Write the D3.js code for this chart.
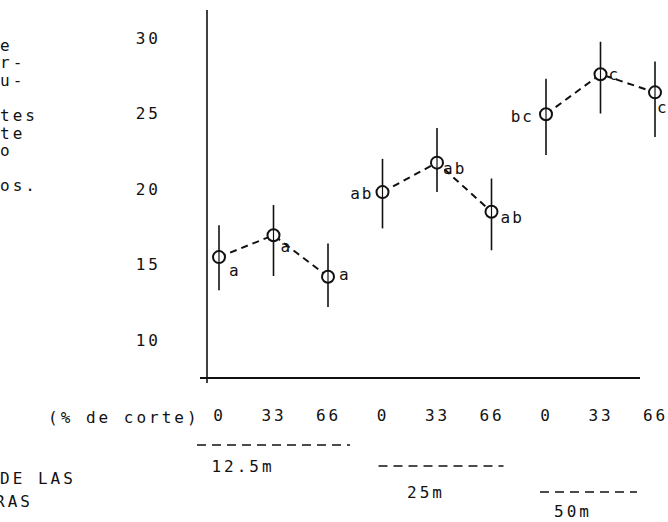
<!DOCTYPE html>
<html>
<head>
<meta charset="utf-8">
<script src="https://cdn.jsdelivr.net/npm/d3@7"></script>
<style>
  html, body { margin: 0; padding: 0; background: #fff; }
  svg { display: block; }
  text { font-family: "DejaVu Sans Mono", "Liberation Mono", monospace; font-size: 16px; letter-spacing: 3px; fill: #111; }
</style>
</head>
<body>
<svg id="chart" width="668" height="522"></svg>
<script>
// ---------------- data ----------------
const yTicks = [10, 15, 20, 25, 30];
const cutPercent = ["0", "33", "66", "0", "33", "66", "0", "33", "66"];
const rowSpacing = ["12.5m", "12.5m", "12.5m", "25m", "25m", "25m", "50m", "50m", "50m"];
const groups = ["12.5m", "25m", "50m"];
const means = [15.5, 16.95, 14.2, 19.8, 21.75, 18.5, 24.95, 27.6, 26.4];
const upper = [17.6, 18.95, 16.4, 22.0, 24.05, 20.7, 27.3, 29.75, 28.45];
const lower = [13.3, 14.25, 12.2, 17.4, 19.8, 15.95, 22.25, 25.0, 23.45];
const letters = ["a", "a", "a", "ab", "ab", "ab", "bc", "c", "c"];
const captionFragments = ["e", "r-", "u-", "", "tes", "te", "o", "", "os."];
const bottomFragments = ["DE LAS", "RAS"];
const axisTitle = "(% de corte)";

// ---------------- layout ----------------
const svg = d3.select("#chart");
const idx = d3.range(means.length);
const x = d3.scalePoint().domain(idx).range([219, 655]);
const y = d3.scaleLinear().domain([7.5, 31.85]).range([378, 10]);

// label placement (dx, dy, anchor) relative to each point
const labelPlace = [
  [10, 13, "start"], [7, 11, "start"], [11, -2, "start"],
  [-9, 1, "end"], [6, 6, "start"], [9, 6, "start"],
  [-12, 2, "end"], [8, 0, "start"], [2, 15, "start"]
];
// group bracket placement: [x0 offset from first, x1 offset from last, y, label x, label y]
const bracketPlace = [
  [-22, 22, 445, 243, 466],
  [-4, 12, 466, 426, 492],
  [-6, -18, 492, 573, 511]
];

// caption fragments (paragraph clipped at the left edge)
svg.append("g").selectAll("text").data(captionFragments).join("text")
  .attr("x", 0).attr("y", (d, i) => 45 + i * 17.6).attr("dy", "0.35em")
  .text(d => d);
svg.append("g").selectAll("text").data(bottomFragments).join("text")
  .attr("x", (d, i) => i === 0 ? 0 : -5).attr("y", (d, i) => 478 + i * 23).attr("dy", "0.35em")
  .text(d => d);

// y axis
const yAxis = d3.axisLeft(y).tickValues(yTicks).tickSize(0).tickPadding(46).tickFormat(d3.format("d"));
const gy = svg.append("g").attr("transform", "translate(207,0)").call(yAxis);
gy.select(".domain").remove();
gy.selectAll("text").attr("font-size", null).attr("font-family", null).attr("fill", "#111");
svg.append("line").attr("x1", 207).attr("x2", 207).attr("y1", y(31.85)).attr("y2", y(7.5) + 5)
  .attr("stroke", "#111").attr("stroke-width", 1.6);

// x axis line
svg.append("line").attr("x1", 200).attr("x2", 640).attr("y1", y(7.5)).attr("y2", y(7.5))
  .attr("stroke", "#111").attr("stroke-width", 2);

// x tick labels
const xAxis = d3.axisBottom(x).tickSize(0).tickPadding(32).tickFormat(i => cutPercent[i]);
const gx = svg.append("g").attr("transform", `translate(0,${y(7.5)})`).call(xAxis);
gx.select(".domain").remove();
gx.selectAll("text").attr("font-size", null).attr("font-family", null).attr("fill", "#111");
svg.append("text").attr("x", 48).attr("y", 417).attr("dy", "0.35em").text(axisTitle);

// group brackets
groups.forEach((g, gi) => {
  const members = idx.filter(i => rowSpacing[i] === g);
  const p = bracketPlace[gi];
  svg.append("line")
    .attr("x1", x(members[0]) + p[0]).attr("x2", x(members[members.length - 1]) + p[1])
    .attr("y1", p[2]).attr("y2", p[2])
    .attr("stroke", "#111").attr("stroke-width", 1.6).attr("stroke-dasharray", "9,6");
  svg.append("text").attr("x", p[3]).attr("y", p[4]).attr("dy", "0.35em")
    .attr("text-anchor", "middle").text(g);
});

// dashed connecting lines within each group
const line = d3.line().x(i => x(i)).y(i => y(means[i]));
groups.forEach(g => {
  const members = idx.filter(i => rowSpacing[i] === g);
  svg.append("path").datum(members).attr("d", line)
    .attr("fill", "none").attr("stroke", "#111").attr("stroke-width", 2)
    .attr("stroke-dasharray", "7,5");
});

// error bars
svg.append("g").selectAll("line").data(idx).join("line")
  .attr("x1", i => x(i)).attr("x2", i => x(i))
  .attr("y1", i => y(upper[i])).attr("y2", i => y(lower[i]))
  .attr("stroke", "#111").attr("stroke-width", 1.6);

// points
svg.append("g").selectAll("circle").data(idx).join("circle")
  .attr("cx", i => x(i)).attr("cy", i => y(means[i])).attr("r", 6)
  .attr("fill", "#fff").attr("stroke", "#111").attr("stroke-width", 2);
svg.append("g").selectAll("line").data(idx).join("line")
  .attr("x1", i => x(i)).attr("x2", i => x(i))
  .attr("y1", i => y(means[i]) - 6).attr("y2", i => y(means[i]) + 6)
  .attr("stroke", "#111").attr("stroke-width", 1.2);

// significance letters
svg.append("g").selectAll("text").data(idx).join("text")
  .attr("x", i => x(i) + labelPlace[i][0])
  .attr("y", i => y(means[i]) + labelPlace[i][1])
  .attr("dy", "0.35em")
  .attr("text-anchor", i => labelPlace[i][2])
  .style("letter-spacing", "2px")
  .text(i => letters[i]);
</script>
</body>
</html>
